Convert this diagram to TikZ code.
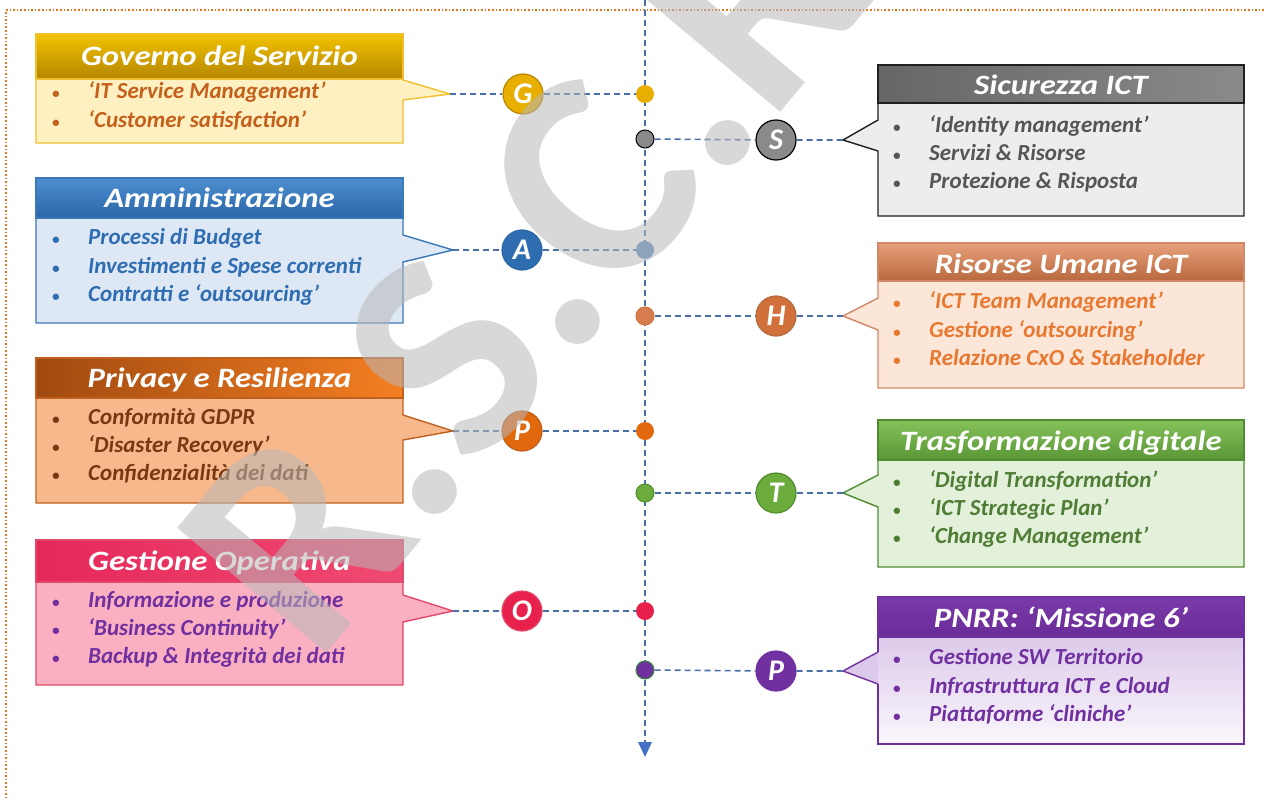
\documentclass[tikz,border=0pt]{standalone}
\usepackage{fontspec}
\setmainfont{Carlito}
\newfontfamily\titlefont[FakeStretch = 1.17]{Carlito}
\usetikzlibrary{arrows.meta}
\usetikzlibrary{positioning}
\definecolor{linkblue}{HTML}{4A6FA8}
\definecolor{axisblue}{HTML}{4472C4}
\definecolor{frameorange}{HTML}{E07820}
% Governo
\definecolor{ghead}{HTML}{F2C200}\definecolor{gheadb}{HTML}{B58600}
\definecolor{gbody}{HTML}{FFF0C2}\definecolor{gline}{HTML}{EFC030}
\definecolor{gtext}{HTML}{C4601C}\definecolor{gball}{HTML}{E8AE00}
% Amministrazione
\definecolor{ahead}{HTML}{4D8FD0}\definecolor{aheadb}{HTML}{2A65A8}
\definecolor{abody}{HTML}{DDE8F4}\definecolor{aline}{HTML}{3C78B8}
\definecolor{atext}{HTML}{2F6DB3}\definecolor{aball}{HTML}{2E6EB0}
% Privacy
\definecolor{phead}{HTML}{A04A10}\definecolor{pheadb}{HTML}{F57F22}
\definecolor{pbody}{HTML}{F7B98C}\definecolor{pline}{HTML}{C0601E}
\definecolor{ptext}{HTML}{7A3812}\definecolor{pball}{HTML}{E2680E}
% Operativa
\definecolor{ohead}{HTML}{E5285A}\definecolor{oheadb}{HTML}{F04A72}
\definecolor{obody}{HTML}{FBB0C2}\definecolor{oline}{HTML}{E04A6A}
\definecolor{otext}{HTML}{7030A0}\definecolor{oball}{HTML}{E8204C}
% Sicurezza
\definecolor{shead}{HTML}{8A8A8A}\definecolor{sheadb}{HTML}{666666}
\definecolor{sbody}{HTML}{EDEDED}\definecolor{sline}{HTML}{202020}
\definecolor{stext}{HTML}{555555}\definecolor{sball}{HTML}{8A8A8A}
% Risorse umane
\definecolor{hhead}{HTML}{E8A07A}\definecolor{hheadb}{HTML}{B8683E}
\definecolor{hbody}{HTML}{FCE6D8}\definecolor{hline}{HTML}{D08868}
\definecolor{htext}{HTML}{E87830}\definecolor{hball}{HTML}{D2703C}
% Trasformazione
\definecolor{thead}{HTML}{86C25A}\definecolor{theadb}{HTML}{5A9636}
\definecolor{tbody}{HTML}{E3F0DA}\definecolor{tline}{HTML}{508C34}
\definecolor{ttext}{HTML}{4F7D36}\definecolor{tball}{HTML}{6CAC3C}
% PNRR
\definecolor{mhead}{HTML}{7A3AAA}\definecolor{mheadb}{HTML}{6A2C98}
\definecolor{mbody}{HTML}{DCCAEA}\definecolor{mline}{HTML}{7030A0}
\definecolor{mtext}{HTML}{7030A0}\definecolor{mball}{HTML}{7030A0}
\tikzset{link/.style = {draw = linkblue, line width = 1.6pt, dash pattern = on 6pt off 4pt}}
\tikzset{title/.style = {text = white, anchor = base, inner sep = 0,
                         font = \titlefont\fontsize{28}{30}\selectfont\bfseries\itshape}}
\tikzset{item/.style = {anchor = base west, inner sep = 0,
                        font = \fontsize{23}{26}\selectfont\bfseries\itshape}}
\tikzset{ball/.style = {circle, minimum size = 40pt, inner sep = 0, line width = 1.2pt,
                        text = white, font = \fontsize{30}{30}\selectfont\bfseries\itshape}}
\tikzset{dot/.style = {circle, minimum size = 18pt, inner sep = 0, line width = 1pt}}
\tikzset{edge/.style = {line width = 1.4pt, line join = miter}}
\newcommand{\bul}{\makebox[36pt][l]{\fontsize{15}{18}\selectfont\textbullet}}

\begin{document}
\begin{tikzpicture}[x = 1pt, y = -1pt]
      \useasboundingbox (0, 0) rectangle (1264, 800);
      \fill [white] (0, 0) rectangle (1264, 800);
      \draw [frameorange, line width = 1.6pt, dotted] (1264, 10) -- (6, 10) -- (6, 800);

      % left boxes
      \coordinate (gtip) at (450, 94);
      \draw [edge, draw = gline, fill = gbody] (36, 34) -- (403, 34) -- (403, 80) -- (gtip)
            -- (403, 100) -- (403, 143) -- (36, 143) -- cycle;
      \shade [top color = ghead, bottom color = gheadb] (36, 34) rectangle (403, 79);
      \draw [edge, gline] (36, 34) rectangle (403, 79);
      \node [title] (gtitle) at (219.5, 66) {Governo del Servizio};
      \node [item, text = gtext] (g1) at (52, 99) {\bul‘IT Service Management’};
      \node [item, text = gtext] (g2) at (52, 127) {\bul‘Customer satisfaction’};

      \coordinate (atip) at (453, 250);
      \draw [edge, draw = aline, fill = abody] (36, 178) -- (403, 178) -- (403, 235) -- (atip)
            -- (403, 262) -- (403, 323) -- (36, 323) -- cycle;
      \shade [top color = ahead, bottom color = aheadb] (36, 178) rectangle (403, 218);
      \draw [edge, aline] (36, 178) rectangle (403, 218);
      \node [title] (atitle) at (219.5, 207) {Amministrazione};
      \node [item, text = atext] (a1) at (52, 244) {\bul Processi di Budget};
      \node [item, text = atext] (a2) at (52, 273) {\bul Investimenti e Spese correnti};
      \node [item, text = atext] (a3) at (52, 301) {\bul Contratti e ‘outsourcing’};

      \coordinate (ptip) at (453, 431);
      \draw [edge, draw = pline, fill = pbody] (36, 358) -- (403, 358) -- (403, 415) -- (ptip)
            -- (403, 440) -- (403, 503) -- (36, 503) -- cycle;
      \shade [left color = phead, right color = pheadb] (36, 358) rectangle (403, 398);
      \draw [edge, pline] (36, 358) rectangle (403, 398);
      \node [title] (ptitle) at (219.5, 387) {Privacy e Resilienza};
      \node [item, text = ptext] (p1) at (52, 424) {\bul Conformità GDPR};
      \node [item, text = ptext] (p2) at (52, 452) {\bul ‘Disaster Recovery’};
      \node [item, text = ptext] (p3) at (52, 480) {\bul Confidenzialità dei dati};

      \coordinate (otip) at (453, 611);
      \draw [edge, draw = oline, fill = obody] (36, 540) -- (403, 540) -- (403, 595) -- (otip)
            -- (403, 622) -- (403, 685) -- (36, 685) -- cycle;
      \shade [left color = ohead, right color = oheadb] (36, 540) rectangle (403, 582);
      \draw [edge, oline] (36, 540) rectangle (403, 582);
      \node [title] (otitle) at (219.5, 570) {Gestione Operativa};
      \node [item, text = otext] (o1) at (52, 607) {\bul Informazione e produzione};
      \node [item, text = otext] (o2) at (52, 635) {\bul ‘Business Continuity’};
      \node [item, text = otext] (o3) at (52, 663) {\bul Backup \& Integrità dei dati};

      % right boxes
      \coordinate (stip) at (843, 140);
      \draw [edge, draw = sline, fill = sbody] (878, 65) -- (1244, 65) -- (1244, 216) -- (878, 216)
            -- (878, 151) -- (stip) -- (878, 120) -- cycle;
      \shade [left color = sheadb, right color = shead] (878, 65) rectangle (1244, 103);
      \draw [edge, sline] (878, 65) rectangle (1244, 103);
      \node [title] (stitle) at (1061, 94) {Sicurezza ICT};
      \node [item, text = stext] (s1) at (893, 132) {\bul‘Identity management’};
      \node [item, text = stext] (s2) at (893, 160) {\bul Servizi \& Risorse};
      \node [item, text = stext] (s3) at (893, 188) {\bul Protezione \& Risposta};

      \coordinate (htip) at (843, 316);
      \draw [edge, draw = hline, fill = hbody] (878, 243) -- (1244, 243) -- (1244, 388) -- (878, 388)
            -- (878, 330) -- (htip) -- (878, 298) -- cycle;
      \shade [top color = hhead, bottom color = hheadb] (878, 243) rectangle (1244, 281);
      \draw [edge, hline] (878, 243) rectangle (1244, 281);
      \node [title] (htitle) at (1061, 273) {Risorse Umane ICT};
      \node [item, text = htext] (h1) at (893, 308) {\bul‘ICT Team Management’};
      \node [item, text = htext] (h2) at (893, 337) {\bul Gestione ‘outsourcing’};
      \node [item, text = htext] (h3) at (893, 365) {\bul Relazione CxO \& Stakeholder};

      \coordinate (ttip) at (843, 493);
      \draw [edge, draw = tline, fill = tbody] (878, 420) -- (1244, 420) -- (1244, 567) -- (878, 567)
            -- (878, 507) -- (ttip) -- (878, 475) -- cycle;
      \shade [top color = thead, bottom color = theadb] (878, 420) rectangle (1244, 460);
      \draw [edge, tline] (878, 420) rectangle (1244, 460);
      \node [title] (ttitle) at (1061, 450) {Trasformazione digitale};
      \node [item, text = ttext] (t1) at (893, 487) {\bul‘Digital Transformation’};
      \node [item, text = ttext] (t2) at (893, 515) {\bul‘ICT Strategic Plan’};
      \node [item, text = ttext] (t3) at (893, 543) {\bul‘Change Management’};

      \coordinate (mtip) at (843, 671);
      \shade [top color = mbody, bottom color = white!85!mbody] (878, 637) rectangle (1244, 744);
      \draw [edge, draw = mline, fill = mbody] (878, 652) -- (mtip) -- (878, 684);
      \draw [edge, mline] (878, 597) -- (1244, 597) -- (1244, 744) -- (878, 744) -- (878, 684)
            (878, 652) -- (878, 597);
      \shade [top color = mhead, bottom color = mheadb] (878, 597) rectangle (1244, 637);
      \draw [edge, mline] (878, 597) rectangle (1244, 637);
      \node [title] (mtitle) at (1061, 627) {PNRR: ‘Missione 6’};
      \node [item, text = mtext] (m1) at (893, 664) {\bul Gestione SW Territorio};
      \node [item, text = mtext] (m2) at (893, 693) {\bul Infrastruttura ICT e Cloud};
      \node [item, text = mtext] (m3) at (893, 721) {\bul Piattaforme ‘cliniche’};

      % time line
      \coordinate (axtop) at (645, 0);
      \coordinate (axend) at (645, 757);
      \draw [link] (axtop) -- (645, 742);
      \fill [axisblue] (638, 742) -- (652, 742) -- (axend) -- cycle;

      \node [dot, fill = gball] (gdot) at (645, 94) {};
      \node [dot, fill = sball, draw = black] (sdot) at (645, 139) {};
      \node [dot, fill = aball!80!white] (adot) at (645, 250) {};
      \node [dot, fill = hball!90!white, draw = hball] (hdot) at (645, 316) {};
      \node [dot, fill = pball] (pdot) at (645, 431) {};
      \node [dot, fill = tball, draw = tline] (tdot) at (645, 493) {};
      \node [dot, fill = oball] (odot) at (645, 611) {};
      \node [dot, fill = mball, draw = black!40!green!60!gray] (mdot) at (645, 670) {};

      \node [ball, fill = gball, draw = gheadb] (gball) at (523, 94) {G};
      \node [ball, fill = sball, draw = black] (sball) at (776, 140) {S};
      \node [ball, fill = aball, draw = aheadb] (aball) at (522, 250) {A};
      \node [ball, fill = hball, draw = hheadb] (hball) at (776, 316) {H};
      \node [ball, fill = pball, draw = pline] (pball) at (522, 431) {P};
      \node [ball, fill = tball, draw = tline] (tball) at (776, 493) {T};
      \node [ball, fill = oball, draw = oline] (oball) at (522, 611) {O};
      \node [ball, fill = mball, draw = mline] (mball) at (776, 671) {P};

      \draw [link] (gtip) -- (gball) -- (gdot);
      \draw [link] (sdot) -- (sball) -- (stip);
      \draw [link] (atip) -- (aball) -- (adot);
      \draw [link] (hdot) -- (hball) -- (htip);
      \draw [link] (ptip) -- (pball) -- (pdot);
      \draw [link] (tdot) -- (tball) -- (ttip);
      \draw [link] (otip) -- (oball) -- (odot);
      \draw [link] (mdot) -- (mball) -- (mtip);

      % watermark
      \node [rotate = 50, text = black!28, opacity = 0.55,
             font = \fontsize{300}{300}\selectfont\bfseries] (mark) at (548, 237) {R.S.C.R.};
\end{tikzpicture}
\end{document}
